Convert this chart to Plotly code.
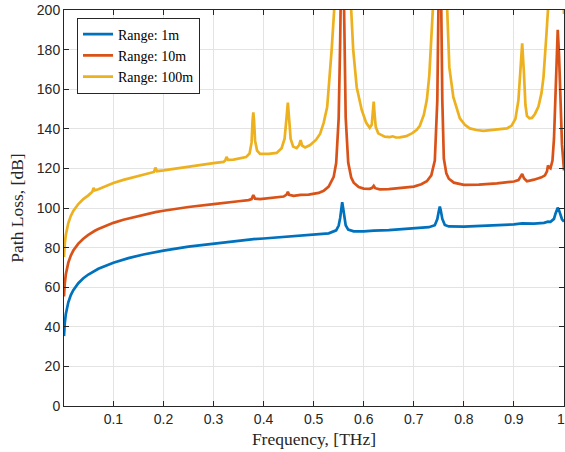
import plotly.graph_objects as go

# ---- data (frequency in THz, path loss in dB) ----
f_1m = [0.0014, 0.002, 0.003, 0.005, 0.0075, 0.01, 0.015, 0.02, 0.03, 0.04, 0.05, 0.07,
        0.1, 0.13, 0.16, 0.2, 0.25, 0.3, 0.35, 0.38, 0.4, 0.45, 0.5, 0.53, 0.545, 0.55,
        0.553, 0.555, 0.557, 0.559, 0.561, 0.564, 0.569, 0.58, 0.6, 0.62, 0.65, 0.7, 0.73,
        0.742, 0.747, 0.75, 0.752, 0.754, 0.757, 0.762, 0.77, 0.8, 0.85, 0.9, 0.9165, 0.94,
        0.96, 0.968, 0.973, 0.98, 0.983, 0.9875, 0.99, 0.993, 0.996, 1.0]
pl_1m = [35.3, 38.5, 42.0, 46.4, 49.9, 52.4, 56.0, 58.5, 62.0, 64.5, 66.4, 69.3,
         72.4, 74.7, 76.5, 78.5, 80.5, 82.0, 83.4, 84.3, 84.6, 85.6, 86.5, 87.2, 88.7, 91.1,
         95.0, 99.7, 102.9, 99.8, 95.2, 91.3, 89.1, 88.2, 88.2, 88.6, 88.8, 89.5, 90.3,
         91.3, 94.4, 98.5, 100.7, 98.6, 94.5, 91.4, 90.7, 90.6, 91.1, 91.7, 92.2, 92.1,
         92.5, 93.1, 93.0, 94.5, 97.1, 100.2, 98.9, 96.5, 94.3, 93.1]

f_10m = [0.0014, 0.002, 0.003, 0.005, 0.0075, 0.01, 0.015, 0.02, 0.03, 0.04, 0.05, 0.058,
         0.0605, 0.063, 0.07, 0.08, 0.1, 0.12, 0.15, 0.175, 0.184, 0.2, 0.25, 0.3, 0.326,
         0.35, 0.37, 0.376, 0.3795, 0.383, 0.393, 0.42, 0.44, 0.446, 0.4485, 0.451, 0.46,
         0.474, 0.49, 0.51, 0.52, 0.53, 0.54, 0.545, 0.55, 0.553, 0.555, 0.557, 0.559, 0.561,
         0.564, 0.569, 0.575, 0.58, 0.59, 0.6, 0.612, 0.617, 0.62, 0.623, 0.632, 0.65, 0.68,
         0.7, 0.715, 0.726, 0.735, 0.742, 0.747, 0.75, 0.752, 0.754, 0.757, 0.76, 0.765,
         0.77, 0.78, 0.8, 0.83, 0.866, 0.9, 0.909, 0.913, 0.9165, 0.92, 0.926, 0.94, 0.955,
         0.962, 0.966, 0.968, 0.97, 0.973, 0.977, 0.98, 0.983, 0.9865, 0.9875, 0.99, 0.993,
         0.996, 1.0]
pl_10m = [55.3, 58.5, 62.0, 66.4, 69.9, 72.4, 76.0, 78.5, 82.0, 84.5, 86.4, 87.8,
          88.3, 88.5, 89.4, 90.5, 92.5, 94.1, 96.0, 97.4, 97.9, 98.6, 100.5, 102.0, 102.9,
          103.4, 104.0, 104.5, 106.5, 104.7, 104.5, 105.1, 105.8, 106.8, 108.2, 106.6, 106.1,
          106.6, 106.8, 107.6, 108.7, 110.8, 115.7, 122.7, 145.4, 184.8, 231.0, 262.0, 231.0, 185.0,
          145.7, 123.0, 115.4, 112.8, 110.6, 109.8, 109.7, 110.2, 111.2, 110.0, 109.4, 109.5, 110.2,
          110.8, 112.0, 113.5, 116.5, 124.0, 154.5, 220.0, 260.0, 220.0, 154.0, 125.0, 117.5,
          114.8, 112.8, 111.7, 111.8, 112.4, 113.4, 114.1, 115.5, 117.2, 115.0, 113.5, 114.3, 115.5,
          116.5, 118.5, 121.5, 120.5, 120.0, 124.0, 135.0, 160.0, 188.0, 190.0, 178.0, 154.0,
          132.0, 119.0]

f_100m = [0.0014, 0.002, 0.003, 0.005, 0.0075, 0.01, 0.015, 0.02, 0.03, 0.04, 0.05, 0.055,
          0.058, 0.0605, 0.063, 0.07, 0.08, 0.1, 0.12, 0.15, 0.175, 0.181, 0.184, 0.187, 0.2,
          0.225, 0.25, 0.275, 0.3, 0.32, 0.3235, 0.326, 0.329, 0.34, 0.355, 0.365, 0.372, 0.376,
          0.378, 0.3795, 0.381, 0.383, 0.387, 0.393, 0.41, 0.426, 0.436, 0.442, 0.446, 0.4485,
          0.451, 0.454, 0.459, 0.466, 0.471, 0.474, 0.477, 0.483, 0.493, 0.505, 0.513, 0.52,
          0.527, 0.532, 0.536, 0.541, 0.545, 0.55, 0.557, 0.564, 0.57, 0.574, 0.579, 0.586,
          0.596, 0.605, 0.612, 0.616, 0.6185, 0.62, 0.6215, 0.624, 0.629, 0.642, 0.652, 0.658,
          0.664, 0.672, 0.685, 0.697, 0.706, 0.712, 0.72, 0.726, 0.731, 0.734, 0.738, 0.742,
          0.752, 0.762, 0.766, 0.771, 0.779, 0.792, 0.802, 0.812, 0.825, 0.839, 0.85, 0.859,
          0.87, 0.886, 0.895, 0.903, 0.909, 0.913, 0.9165, 0.92, 0.923, 0.926, 0.931, 0.936,
          0.942, 0.949, 0.955, 0.959, 0.962, 0.965, 0.968, 0.972, 0.988, 0.995, 1.0]
pl_100m = [75.3, 78.5, 82.0, 86.4, 89.9, 92.4, 96.0, 98.5, 102.0, 104.5, 106.4, 107.4,
           108.2, 110.2, 108.9, 109.5, 110.6, 112.6, 114.2, 116.2, 117.5, 118.2, 120.4, 118.6, 119.0,
           120.0, 120.9, 121.9, 122.7, 123.3, 124.0, 125.8, 124.3, 124.4, 125.0, 125.7, 127.5, 133.0,
           144.0, 148.3, 144.0, 134.0, 129.0, 127.3, 127.3, 127.8, 130.2, 135.0, 146.0, 153.2,
           145.0, 135.0, 131.0, 130.2, 131.8, 134.3, 131.5, 130.6, 131.8, 134.5, 137.5, 143.0,
           151.0, 165.0, 180.0, 200.0, 240.0, 400.0, 1600.0, 400.0, 250.0, 205.0, 180.0, 161.0,
           149.5, 143.0, 140.5, 142.0, 148.0, 153.7, 148.0, 141.0, 137.7, 136.0, 135.8, 136.2,
           135.6, 135.7, 136.3, 137.8, 139.5, 141.5, 147.0, 154.5, 167.0, 180.0, 200.0, 240.0,
           1100.0, 250.0, 205.0, 171.0, 156.0, 145.3, 142.0, 140.2, 139.4, 139.0, 139.2, 139.7,
           139.7, 140.2, 141.5, 145.0, 154.5, 168.0, 183.2, 168.0, 152.0, 146.5, 145.3, 145.5,
           147.5, 151.2, 158.0, 166.0, 175.0, 188.0, 200.0, 240.0, 800.0, 260.0, 198.0]

series_names = ["Range: 1m", "Range: 10m", "Range: 100m"]
series_colors = ["#0072BD", "#D95319", "#EDB120"]
x_tickvals = [0.1, 0.2, 0.3, 0.4, 0.5, 0.6, 0.7, 0.8, 0.9, 1.0]
x_ticktext = ["0.1", "0.2", "0.3", "0.4", "0.5", "0.6", "0.7", "0.8", "0.9", ""]
x_last_label = "1"
y_tickvals = list(range(0, 201, 20))

SERIF = "Liberation Serif"
SANS = "Liberation Sans"

fig = go.Figure()
for fx, fy, name, col in zip([f_1m, f_10m, f_100m], [pl_1m, pl_10m, pl_100m],
                             series_names, series_colors):
    fig.add_trace(go.Scatter(x=fx, y=fy, mode="lines", name=name,
                             line=dict(color=col, width=2.7)))

axis_common = dict(showline=True, linecolor="#262626", linewidth=1, mirror="ticks",
                   ticks="inside", ticklen=5, tickcolor="#262626", showgrid=True,
                   gridcolor="#e3e3e3", gridwidth=1, zeroline=False, automargin=False,
                   tickfont=dict(family=SANS, size=14, color="#262626"))

fig.update_xaxes(range=[0.0014, 1.0], tickvals=x_tickvals, ticktext=x_ticktext,
                 title=dict(text="Frequency, [THz]", standoff=6,
                            font=dict(family=SERIF, size=17.5, color="#262626")),
                 **axis_common)
fig.update_yaxes(range=[0, 200], tickvals=y_tickvals,
                 title=dict(text="Path Loss, [dB]", standoff=8,
                            font=dict(family=SERIF, size=17.5, color="#262626")),
                 **axis_common)

# last x tick label placed so that it stays inside the page edge
fig.add_annotation(x=x_tickvals[-1], xref="x", y=0, yref="paper",
                   text=x_last_label, showarrow=False, xanchor="right", yanchor="middle",
                   xshift=2, yshift=-13, borderpad=0,
                   font=dict(family=SANS, size=14, color="#262626"))

fig.update_layout(
    width=565, height=452,
    margin=dict(l=64, r=1, t=10, b=46, autoexpand=False),
    plot_bgcolor="white", paper_bgcolor="white",
    showlegend=True,
    legend=dict(x=0.026, y=0.885, xanchor="left", yanchor="middle",
                bgcolor="white", bordercolor="#262626", borderwidth=1,
                font=dict(family=SERIF, size=14, color="#000000"),
                tracegroupgap=0),
)

fig.write_html("out.html", config={"displayModeBar": False},
               post_script="document.body.style.margin='0';document.body.style.padding='0';")
